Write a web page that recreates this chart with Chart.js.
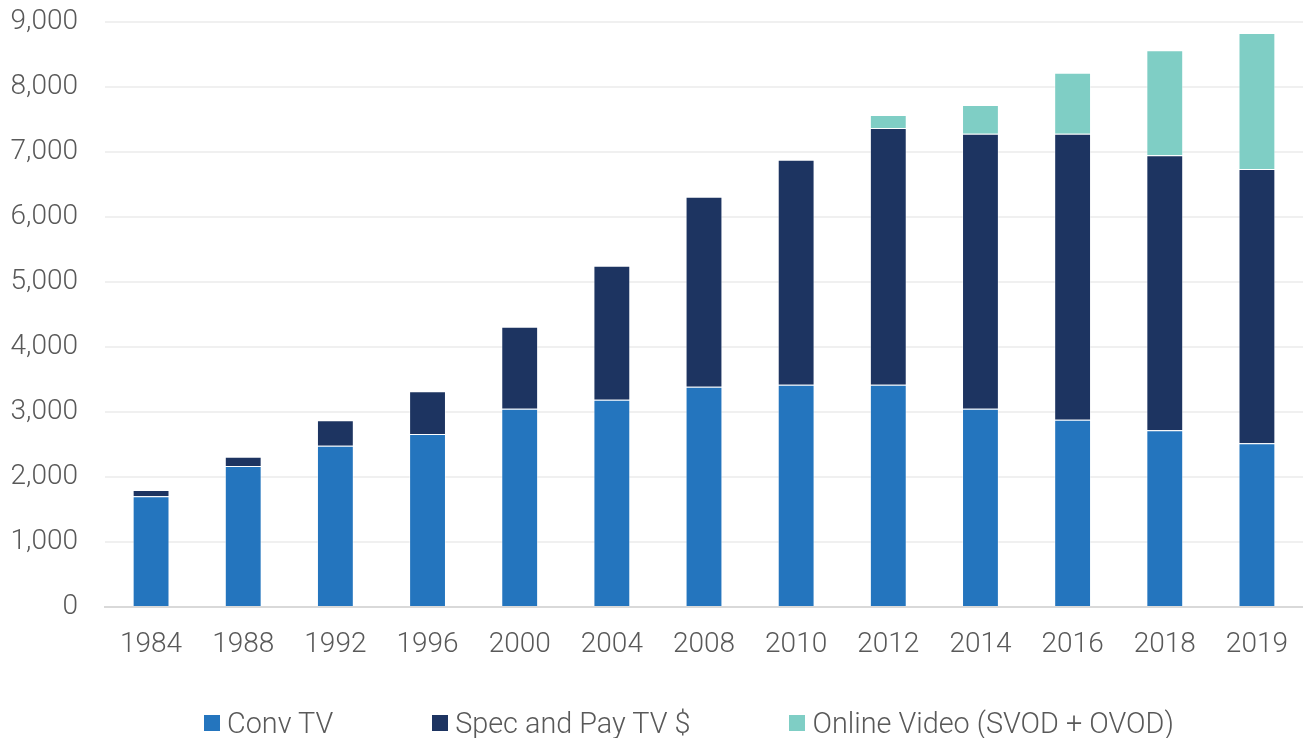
<!DOCTYPE html>
<html lang="en">
<head>
    <meta charset="UTF-8">
    <title>TV and Online Video</title>
    <script src="https://cdn.jsdelivr.net/npm/chart.js"></script>
    <style>
        body { margin: 0; background: #fff; }
        #wrap { position: relative; width: 1303px; height: 738px; }
        #tvChart { display: block; }
        #legend {
            position: absolute; left: 204px; top: 709px; height: 28px;
            display: flex; align-items: center; gap: 99px;
            font-family: Roboto, sans-serif; font-weight: 300; font-size: 28.8px;
            line-height: 28px; color: #595959; white-space: nowrap;
        }
        #legend .item { display: flex; align-items: center; }
        #legend .box { width: 16px; height: 16px; margin-right: 7px; }
    </style>
</head>
<body>
    <div id="wrap">
        <canvas id="tvChart" width="1303" height="738"></canvas>
        <div id="legend"></div>
    </div>
    <script>
        const years = ['1984', '1988', '1992', '1996', '2000', '2004', '2008', '2010', '2012', '2014', '2016', '2018', '2019'];
        const convTV = [1705, 2170, 2480, 2660, 3050, 3190, 3390, 3420, 3420, 3050, 2880, 2720, 2520];
        const specPayTV = [95, 140, 395, 660, 1260, 2060, 2920, 3460, 3950, 4230, 4400, 4230, 4220];
        const onlineVideo = [0, 0, 0, 0, 0, 0, 0, 0, 200, 445, 940, 1615, 2090];
        const seriesNames = ['Conv TV', 'Spec and Pay TV $', 'Online Video (SVOD + OVOD)'];
        const seriesColors = ['#2475be', '#1d3461', '#7fcec5'];

        const tickFont = { family: 'Roboto', size: 28, weight: '300' };

        const datasets = [convTV, specPayTV, onlineVideo].map((values, i) => ({
            label: seriesNames[i],
            data: values,
            backgroundColor: seriesColors[i],
            borderColor: 'rgba(255,255,255,0.45)',
            borderWidth: 1,
            barPercentage: 0.4,
            categoryPercentage: 1.0
        }));

        const chart = new Chart(document.getElementById('tvChart'), {
            type: 'bar',
            data: { labels: years, datasets: datasets },
            options: {
                responsive: false,
                animation: false,
                layout: { padding: { top: 22, right: 0, bottom: 77, left: 0 } },
                plugins: {
                    legend: { display: false },
                    tooltip: { enabled: false }
                },
                scales: {
                    x: {
                        stacked: true,
                        grid: { display: false },
                        border: { color: '#d9d9d9', width: 2 },
                        ticks: { color: '#595959', font: tickFont, padding: 13, maxRotation: 0 },
                        afterFit: scale => {
                            scale.height = 54;
                            scale.paddingLeft = 0;
                            scale.paddingRight = 0;
                        }
                    },
                    y: {
                        stacked: true,
                        min: 0,
                        max: 9000,
                        grid: { color: '#f0f0f0', lineWidth: 2, drawTicks: false },
                        border: { display: false },
                        ticks: {
                            stepSize: 1000,
                            color: '#595959',
                            font: tickFont,
                            padding: 27,
                            callback: v => v.toLocaleString('en-US')
                        },
                        afterFit: scale => {
                            scale.width = 105;
                            scale.paddingTop = 0;
                            scale.paddingBottom = 0;
                        }
                    }
                }
            }
        });

        // simple html legend under the chart
        const legendEl = document.getElementById('legend');
        chart.data.datasets.forEach(ds => {
            const item = document.createElement('div');
            item.className = 'item';
            item.innerHTML = `<span class="box" style="background:${ds.backgroundColor}"></span><span>${ds.label}</span>`;
            legendEl.appendChild(item);
        });
    </script>
</body>
</html>
